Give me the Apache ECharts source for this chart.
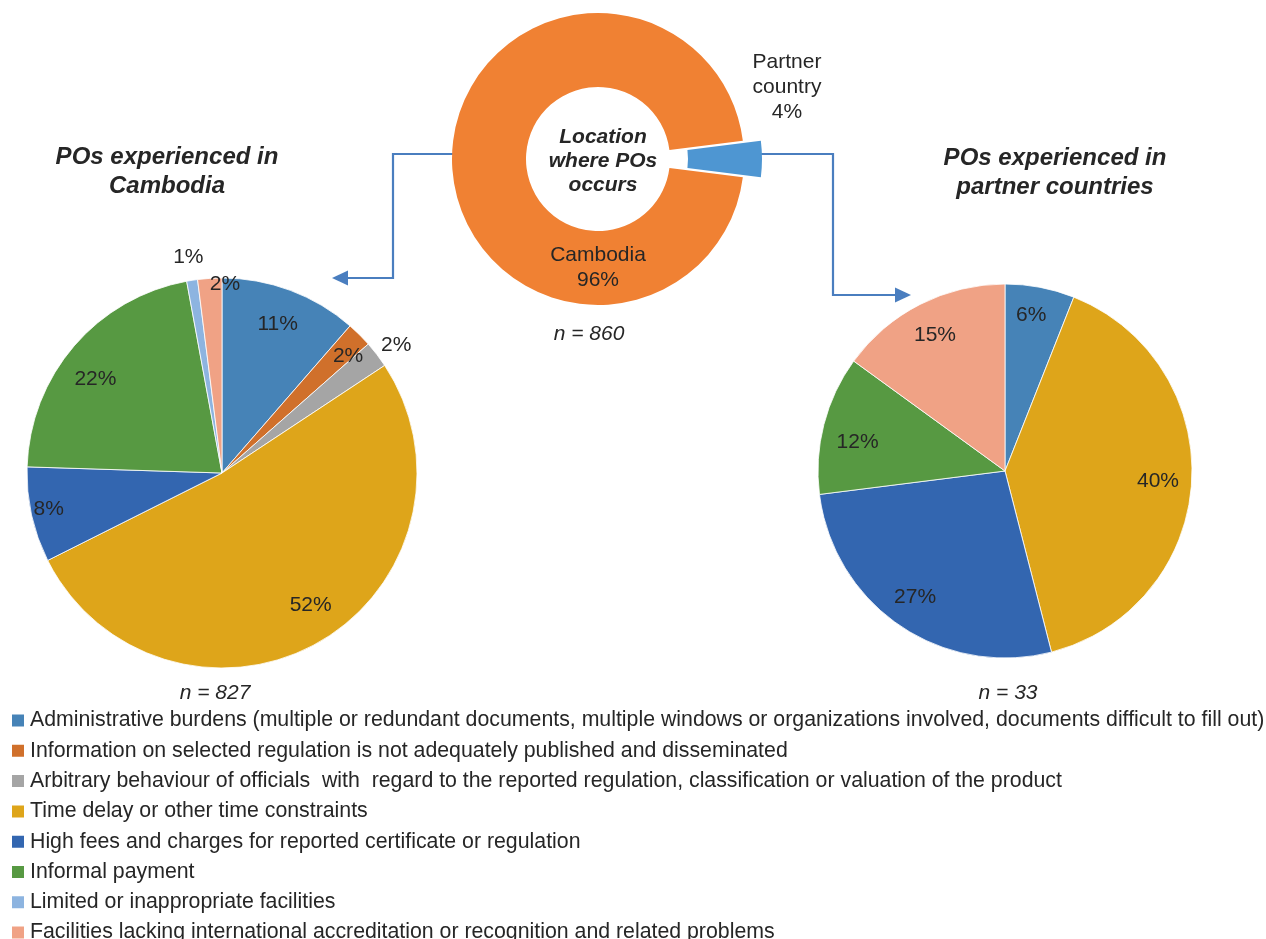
<!DOCTYPE html>
<html>
<head>
<meta charset="utf-8">
<script src="https://cdn.jsdelivr.net/npm/echarts@6/dist/echarts.min.js"></script>
<style>
html, body { margin: 0; padding: 0; background: #fff; }
#main { width: 1266px; height: 939px; }
</style>
</head>
<body>
<div id="main"></div>
<script>
// legend categories (order = slice order, clockwise from 12 o'clock)
var categories = [
    'Administrative burdens (multiple or redundant documents, multiple windows or organizations involved, documents difficult to fill out)',
    'Information on selected regulation is not adequately published and disseminated',
    'Arbitrary behaviour of officials  with  regard to the reported regulation, classification or valuation of the product',
    'Time delay or other time constraints',
    'High fees and charges for reported certificate or regulation',
    'Informal payment',
    'Limited or inappropriate facilities',
    'Facilities lacking international accreditation or recognition and related problems'
];
var categoryColors = ['#4683b7', '#d0702b', '#a5a5a5', '#dea51a', '#3366b0', '#579942', '#8db4e0', '#f0a285'];

// share of POs experienced in Cambodia (%), n = 827
var cambodiaShares = [11.4, 2.1, 2.2, 51.9, 7.9, 21.6, 0.9, 2.0];

// share of POs experienced in partner countries (%), n = 33
var partnerCategories = [categories[0], categories[3], categories[4], categories[5], categories[7]];
var partnerShares = [6, 40, 27, 12, 15];

// location where POs occur, n = 860
var locationNames = ['Partner\ncountry', 'Cambodia'];
var locationShares = [4, 96];
var locationColors = ['#4e96d2', '#f08133'];

var FONT = "'Liberation Sans', Arial, sans-serif";
var textColor = '#262626';

var leftCenter = [222, 473], leftR = 195;
var rightCenter = [1005, 471], rightR = 187;
var donutCenter = [598, 159], donutR = [72, 146], explode = 18;

// small label nudges (Excel "best fit" placement)
var leftNudge = { 1: [14, -4], 2: [-4, -7], 3: [9, -5], 4: [-18, 2], 5: [-6, 10], 6: [17, -19], 7: [13, -30] };
var rightNudge = { 0: [-3, -2], 1: [-3, 0], 2: [-2, -3], 3: [4, 10], 4: [1, 4] };

function colorOf(name) {
    return categoryColors[categories.indexOf(name)];
}

function makeData(names, values) {
    var out = [];
    for (var i = 0; i < names.length; i++) {
        out.push({ name: names[i], value: values[i], itemStyle: { color: colorOf(names[i]) } });
    }
    return out;
}

function pctLabel(p) {
    return Math.round(p.percent) + '%';
}

function nudger(table) {
    return function (p) {
        var n = table[p.dataIndex];
        return n ? { dx: n[0], dy: n[1] } : {};
    };
}

var labelText = { fontFamily: FONT, fontSize: 21, color: textColor };

var leftData = makeData(categories, cambodiaShares);
var rightData = makeData(partnerCategories, partnerShares);

// transparent ring used only to place labels at ~0.8 of the radius
function labelRing(data, outside) {
    return data.map(function (d, i) {
        var item = { name: d.name, value: d.value, itemStyle: { color: 'rgba(0,0,0,0)' } };
        if (outside && outside.indexOf(i) >= 0) {
            item.label = { position: 'outside' };
            item.labelLine = { show: false, length: 4, length2: 0 };
        }
        return item;
    });
}

// donut split in two: the ring itself and the exploded partner slice
function donutPart(showIndex) {
    return locationNames.map(function (n, i) {
        var item = { name: n, value: locationShares[i], itemStyle: { color: locationColors[i] } };
        if (i !== showIndex) {
            item.itemStyle = { color: 'rgba(0,0,0,0)' };
            item.label = { show: false };
        }
        return item;
    });
}

var donutLabel = Object.assign({ show: true, position: 'inside', lineHeight: 25,
    formatter: function (p) { return p.name + '\n' + Math.round(p.percent) + '%'; } }, labelText);

var chart = echarts.init(document.getElementById('main'));
chart.setOption({
    animation: false,
    title: [
        { text: 'POs experienced in\nCambodia', left: 162, top: 138, textAlign: 'center',
          textStyle: { fontFamily: FONT, fontSize: 24, fontWeight: 'bold', fontStyle: 'italic', color: textColor, lineHeight: 29 } },
        { text: 'POs experienced in\npartner countries', left: 1050, top: 139, textAlign: 'center',
          textStyle: { fontFamily: FONT, fontSize: 24, fontWeight: 'bold', fontStyle: 'italic', color: textColor, lineHeight: 29 } },
        { text: 'Location\nwhere POs\noccurs', left: 598, top: 120, textAlign: 'center',
          textStyle: { fontFamily: FONT, fontSize: 21, fontWeight: 'bold', fontStyle: 'italic', color: textColor, lineHeight: 24 } },
        { text: 'n = 827', left: 210, top: 678, textAlign: 'center',
          textStyle: { fontFamily: FONT, fontSize: 21, fontWeight: 'normal', fontStyle: 'italic', color: textColor } },
        { text: 'n = 860', left: 584, top: 319, textAlign: 'center',
          textStyle: { fontFamily: FONT, fontSize: 21, fontWeight: 'normal', fontStyle: 'italic', color: textColor } },
        { text: 'n = 33', left: 1003, top: 678, textAlign: 'center',
          textStyle: { fontFamily: FONT, fontSize: 21, fontWeight: 'normal', fontStyle: 'italic', color: textColor } }
    ],
    legend: {
        orient: 'vertical',
        left: 10,
        top: 710,
        height: 320,
        padding: 0,
        itemWidth: 14,
        itemHeight: 14,
        itemGap: 9.3,
        icon: 'rect',
        selectedMode: false,
        textStyle: { fontFamily: FONT, fontSize: 21.3, color: textColor },
        data: categories.map(function (c, i) {
            return { name: c, itemStyle: { color: categoryColors[i] } };
        })
    },
    graphic: [
        { type: 'polyline', shape: { points: [[455, 154], [393, 154], [393, 278], [346, 278]] },
          style: { stroke: '#4a7ebf', lineWidth: 2.2, fill: null } },
        { type: 'polygon', shape: { points: [[332, 278], [348, 270.5], [348, 285.5]] },
          style: { fill: '#4a7ebf' } },
        { type: 'polyline', shape: { points: [[758, 154], [833, 154], [833, 295], [897, 295]] },
          style: { stroke: '#4a7ebf', lineWidth: 2.2, fill: null } },
        { type: 'polygon', shape: { points: [[911, 295], [895, 287.5], [895, 302.5]] },
          style: { fill: '#4a7ebf' } }
    ],
    series: [
        {
            name: 'Cambodia',
            type: 'pie',
            center: leftCenter,
            radius: [0, leftR],
            startAngle: 90,
            clockwise: true,
            silent: true,
            label: { show: false },
            labelLine: { show: false },
            itemStyle: { borderColor: '#fff', borderWidth: 0.8 },
            emphasis: { disabled: true },
            data: leftData
        },
        {
            name: 'Cambodia labels',
            type: 'pie',
            center: leftCenter,
            radius: [leftR * 0.6, leftR],
            startAngle: 90,
            silent: true,
            avoidLabelOverlap: false,
            emphasis: { disabled: true },
            label: Object.assign({ show: true, position: 'inside', formatter: pctLabel }, labelText),
            labelLine: { show: false },
            labelLayout: nudger(leftNudge),
            data: labelRing(leftData, [2, 6])
        },
        {
            name: 'Partner countries',
            type: 'pie',
            center: rightCenter,
            radius: [0, rightR],
            startAngle: 90,
            silent: true,
            label: { show: false },
            labelLine: { show: false },
            itemStyle: { borderColor: '#fff', borderWidth: 0.8 },
            emphasis: { disabled: true },
            data: rightData
        },
        {
            name: 'Partner labels',
            type: 'pie',
            center: rightCenter,
            radius: [rightR * 0.64, rightR],
            startAngle: 90,
            silent: true,
            avoidLabelOverlap: false,
            emphasis: { disabled: true },
            label: Object.assign({ show: true, position: 'inside', formatter: pctLabel }, labelText),
            labelLine: { show: false },
            labelLayout: nudger(rightNudge),
            data: labelRing(rightData)
        },
        {
            name: 'Location',
            type: 'pie',
            center: donutCenter,
            radius: donutR,
            startAngle: locationShares[0] / 100 * 180,
            silent: true,
            avoidLabelOverlap: false,
            emphasis: { disabled: true },
            label: donutLabel,
            labelLine: { show: false },
            labelLayout: function () {
                return { x: donutCenter[0], y: donutCenter[1] + (donutR[0] + donutR[1]) / 2, align: 'center', verticalAlign: 'middle' };
            },
            data: donutPart(1)
        },
        {
            name: 'Location (partner)',
            type: 'pie',
            center: [donutCenter[0] + explode, donutCenter[1]],
            radius: donutR,
            startAngle: locationShares[0] / 100 * 180,
            silent: true,
            avoidLabelOverlap: false,
            emphasis: { disabled: true },
            label: donutLabel,
            labelLine: { show: false },
            labelLayout: function () {
                return { x: donutCenter[0] + 189, y: donutCenter[1] - 72, align: 'center', verticalAlign: 'middle' };
            },
            data: donutPart(0)
        }
    ]
});
</script>
</body>
</html>
